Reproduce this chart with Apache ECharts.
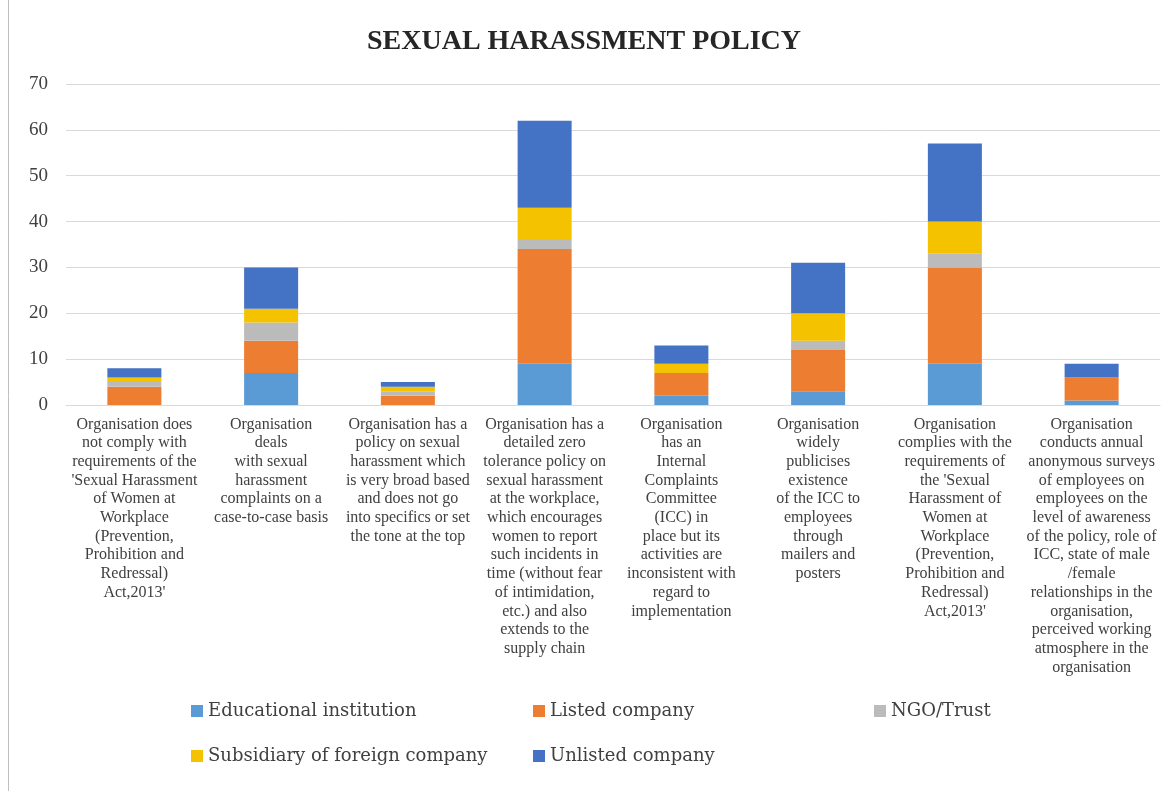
<!DOCTYPE html>
<html>
<head>
<meta charset="utf-8">
<script src="https://cdn.jsdelivr.net/npm/echarts@6/dist/echarts.min.js"></script>
<style>
html, body { margin: 0; padding: 0; background: #fff; }
#chart { width: 1168px; height: 791px; }
</style>
</head>
<body>
<div id="chart"></div>
<script>
// categories (line breaks as in the original)
var categories = [
	"Organisation does\nnot comply with\nrequirements of the\n'Sexual Harassment\nof Women at\nWorkplace\n(Prevention,\nProhibition and\nRedressal)\nAct,2013'",
	"Organisation\ndeals\nwith sexual\nharassment\ncomplaints on a\ncase-to-case basis",
	"Organisation has a\npolicy on sexual\nharassment which\nis very broad based\nand does not go\ninto specifics or set\nthe tone at the top",
	"Organisation has a\ndetailed zero\ntolerance policy on\nsexual harassment\nat the workplace,\nwhich encourages\nwomen to report\nsuch incidents in\ntime (without fear\nof intimidation,\netc.) and also\nextends to the\nsupply chain",
	"Organisation\nhas an\nInternal\nComplaints\nCommittee\n(ICC) in\nplace but its\nactivities are\ninconsistent with\nregard to\nimplementation",
	"Organisation\nwidely\npublicises\nexistence\nof the ICC to\nemployees\nthrough\nmailers and\nposters",
	"Organisation\ncomplies with the\nrequirements of\nthe 'Sexual\nHarassment of\nWomen at\nWorkplace\n(Prevention,\nProhibition and\nRedressal)\nAct,2013'",
	"Organisation\nconducts annual\nanonymous surveys\nof employees on\nemployees on the\nlevel of awareness\nof the policy, role of\nICC, state of male\n/female\nrelationships in the\norganisation,\nperceived working\natmosphere in the\norganisation"
];

var educational = [0, 7, 0, 9, 2, 3, 9, 1];
var listed      = [4, 7, 2, 25, 5, 9, 21, 5];
var ngoTrust    = [1, 4, 1, 2, 0, 2, 3, 0];
var subsidiary  = [1, 3, 1, 7, 2, 6, 7, 0];
var unlisted    = [2, 9, 1, 19, 4, 11, 17, 3];

var yTicks = [0, 10, 20, 30, 40, 50, 60, 70];

var font = 'Liberation Serif';
var textColor = '#404040';

function bar(name, data, color) {
	return {
		name: name,
		type: 'bar',
		stack: 'total',
		barWidth: '39.5%',
		data: data,
		itemStyle: { color: color }
	};
}

var chart = echarts.init(document.getElementById('chart'));

var legendBase = {
	orient: 'vertical',
	top: 697,
	itemWidth: 12,
	itemHeight: 12,
	itemGap: 27,
	icon: 'rect',
	textStyle: { fontFamily: 'DejaVu Serif', fontSize: 18, color: textColor }
};

chart.setOption({
	backgroundColor: '#fff',
	animation: false,
	title: {
		text: 'SEXUAL HARASSMENT POLICY',
		left: 'center',
		top: 23,
		textStyle: { fontFamily: font, fontSize: 28, fontWeight: 'bold', color: '#262626' }
	},
	graphic: [{
		type: 'rect',
		shape: { x: 8.5, y: -1, width: 1200, height: 1200 },
		style: { fill: 'none', stroke: '#bfbfbf', lineWidth: 1 }
	}],
	legend: [
		Object.assign({ left: 186, data: ['Educational institution', 'Subsidiary of foreign company'] }, legendBase),
		Object.assign({ left: 528, data: ['Listed company', 'Unlisted company'] }, legendBase),
		Object.assign({ left: 869, data: ['NGO/Trust'] }, legendBase)
	],
	grid: { left: 66, right: 8, top: 84, bottom: 386, containLabel: false },
	xAxis: {
		type: 'category',
		data: categories,
		axisLine: { lineStyle: { color: '#d9d9d9' } },
		axisTick: { show: false },
		axisLabel: {
			interval: 0,
			margin: 10,
			fontFamily: font,
			fontSize: 16,
			lineHeight: 18.7,
			color: textColor,
			verticalAlign: 'top'
		}
	},
	yAxis: {
		type: 'value',
		min: 0,
		max: 70,
		interval: 10,
		axisLine: { show: false },
		axisTick: { show: false },
		splitLine: { lineStyle: { color: '#d9d9d9', width: 1 } },
		axisLabel: {
			margin: 18,
			fontFamily: font,
			fontSize: 19,
			color: textColor,
			formatter: function (v) { return yTicks.indexOf(v) >= 0 ? String(v) : ''; }
		}
	},
	series: [
		bar('Educational institution', educational, '#5B9BD5'),
		bar('Listed company', listed, '#ED7D31'),
		bar('NGO/Trust', ngoTrust, '#BBBBBB'),
		bar('Subsidiary of foreign company', subsidiary, '#F5C200'),
		bar('Unlisted company', unlisted, '#4472C4')
	]
});
</script>
</body>
</html>
